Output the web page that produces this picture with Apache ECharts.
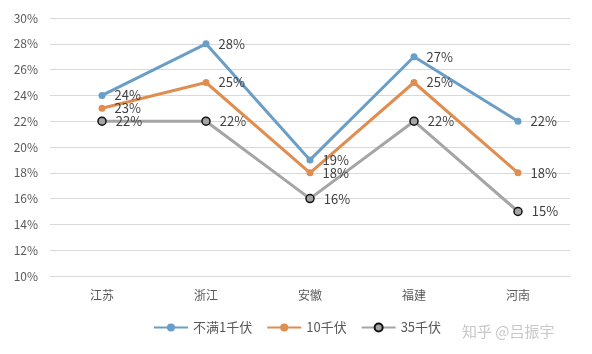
<!DOCTYPE html>
<html><head><meta charset="utf-8">
<script src="https://cdn.jsdelivr.net/npm/echarts@6/dist/echarts.min.js"></script>
<style>html,body{margin:0;padding:0;background:#fff}#c{width:592px;height:354px}</style>
</head><body><div id="c"></div>
<script>
const categories = ['江苏','浙江','安徽','福建','河南'];
const seriesNames = ['不满1千伏','10千伏','35千伏'];
const lowVoltage = [24,28,19,27,22];
const kv10 = [23,25,18,25,18];
const kv35 = [22,22,16,22,15];
const yTicks = [10,30,2];

const chart = echarts.init(document.getElementById('c'));
const lbl = {show:true, position:'right', distance:9, formatter: p => p.value + '%', color:'#404040', fontSize:13, fontFamily:'Noto Sans CJK SC'};
chart.setOption({
  animation:false,
  grid:{left:50, right:22, top:18, bottom:78},
  xAxis:{type:'category', data:categories, boundaryGap:true,
    axisLine:{lineStyle:{color:'#d9d9d9'}}, axisTick:{show:false},
    axisLabel:{color:'#595959', fontSize:12, margin:13, fontFamily:'Noto Sans CJK SC'}},
  yAxis:{type:'value', min:yTicks[0], max:yTicks[1], interval:yTicks[2],
    axisLabel:{formatter:'{value}%', color:'#595959', fontSize:12, margin:12, fontFamily:'Noto Sans CJK SC'},
    axisLine:{show:false}, axisTick:{show:false},
    splitLine:{lineStyle:{color:'#d9d9d9'}}},
  legend:{bottom:15, left:148, itemWidth:34, itemHeight:10, itemGap:14,
    textStyle:{color:'#595959', fontSize:13, fontFamily:'Noto Sans CJK SC'}},
  series:[
    {name:seriesNames[0], type:'line', data:lowVoltage, symbol:'circle', symbolSize:7,
      lineStyle:{color:'#6a9ec6', width:3}, itemStyle:{color:'#6a9ec6'}, label:lbl},
    {name:seriesNames[1], type:'line', data:kv10, symbol:'circle', symbolSize:7,
      lineStyle:{color:'#e08d50', width:3}, itemStyle:{color:'#e08d50'}, label:lbl},
    {name:seriesNames[2], type:'line', data:kv35, symbol:'circle', symbolSize:8,
      lineStyle:{color:'#a5a5a5', width:3}, itemStyle:{color:'#a5a5a5', borderColor:'#111', borderWidth:1.5}, label:lbl}
  ],
  graphic:[{type:'text', left:462, bottom:15, style:{text:'知乎 @吕振宇', fill:'#c8c8c8', font:'15px "Noto Sans CJK SC"'}}]
});
</script></body></html>
